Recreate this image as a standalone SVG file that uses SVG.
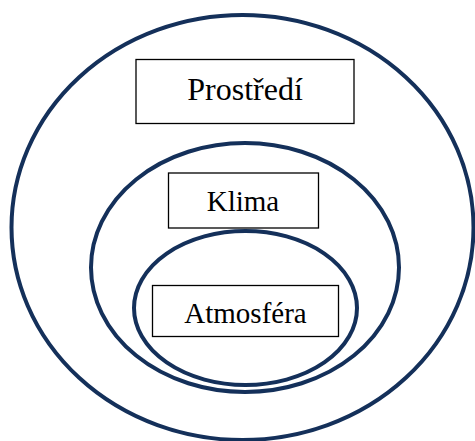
<svg xmlns="http://www.w3.org/2000/svg" width="475" height="441" viewBox="0 0 475 441">
<style>
.ring{fill:none;stroke:#14305a;stroke-width:4}
.box{fill:#ffffff;stroke:#000000;stroke-width:1.3}
.lbl{fill:#000000;text-anchor:middle;font-family:'Liberation Serif','Times New Roman',serif}
</style>
<rect width="475" height="441" fill="#ffffff"/>
<g id="rings">
<ellipse id="ring-outer" class="ring" cx="242.5" cy="227.5" rx="231" ry="212.5"/>
<ellipse id="ring-middle" class="ring" cx="245" cy="267.5" rx="154" ry="124.5"/>
<ellipse id="ring-inner" class="ring" cx="245.5" cy="308" rx="111.5" ry="77"/>
</g>
<g id="connectors"></g>
<g id="node-prostredi">
<rect class="box" x="136" y="59.5" width="218" height="64"/>
<text class="lbl" x="245" y="100" style="font-family:'Liberation Serif',serif;font-size:32px">Prostředí</text>
</g>
<g id="node-klima">
<rect class="box" x="168.5" y="173" width="150" height="55"/>
<text class="lbl" x="243" y="211" style="font-family:'Liberation Serif',serif;font-size:29px">Klima</text>
</g>
<g id="node-atmosfera">
<rect class="box" x="152.5" y="285.5" width="186" height="51"/>
<text class="lbl" x="245.5" y="323" style="font-family:'Liberation Serif',serif;font-size:29px">Atmosféra</text>
</g>
</svg>
